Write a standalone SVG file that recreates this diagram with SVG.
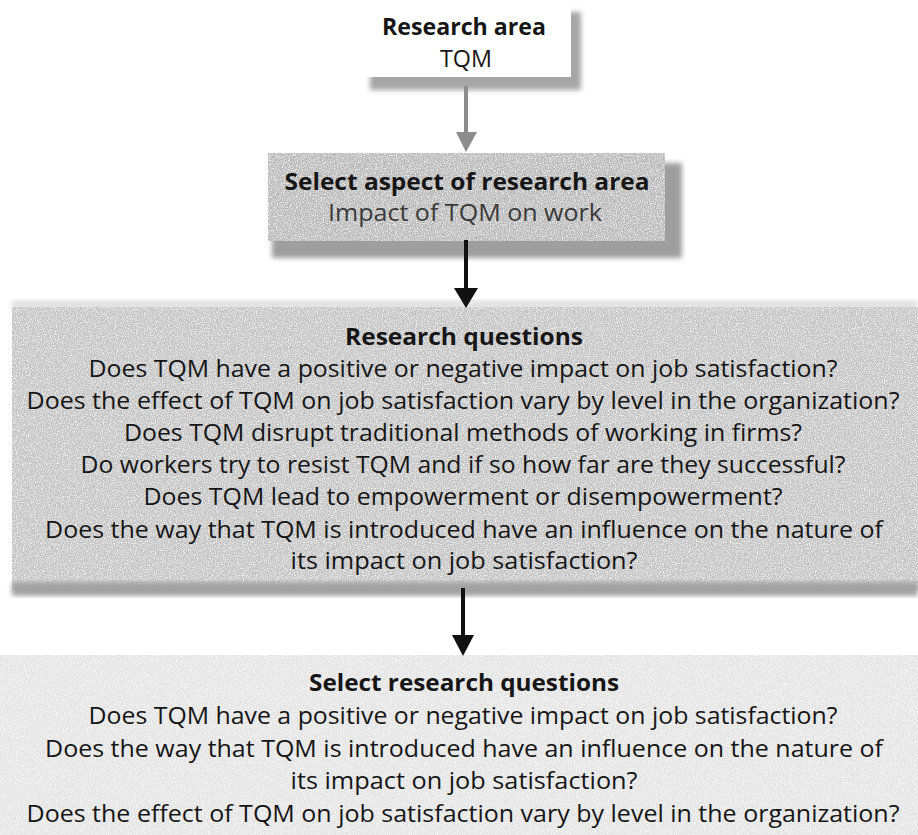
<svg xmlns="http://www.w3.org/2000/svg" width="918" height="835" viewBox="0 0 918 835">
  <defs>
    <style>
      text { font-family: "Open Sans", "Noto Sans", "Liberation Sans", sans-serif; fill: #161616; text-anchor: middle; }
      .b { font-weight: bold; font-size: 23px; }
      .r { font-size: 23px; }
      .gr { fill: #3a3a3a; }
    </style>
    <filter id="soft" x="-10%" y="-10%" width="120%" height="120%">
      <feGaussianBlur stdDeviation="2.5"/>
    </filter>
    <filter id="grain" x="0" y="0" width="100%" height="100%">
      <feTurbulence type="fractalNoise" baseFrequency="0.85" numOctaves="2" seed="4" result="n"/>
      <feColorMatrix in="n" type="matrix" values="0 0 0 0 1  0 0 0 0 1  0 0 0 0 1  0 0 0 2.2 -0.95" result="w"/>
      <feComposite in="w" in2="SourceGraphic" operator="in" result="wi"/>
      <feMerge><feMergeNode in="SourceGraphic"/><feMergeNode in="wi"/></feMerge>
    </filter>
  </defs>
  <rect width="918" height="835" fill="#ffffff"/>

  <g id="node-research-area">
    <rect x="370" y="12" width="211" height="78" fill="#a6a6a6" filter="url(#soft)"/>
    <rect x="362" y="2" width="209" height="75" fill="#ffffff"/>
    <text class="b" x="464" y="35" textLength="164" lengthAdjust="spacingAndGlyphs">Research area</text>
    <text class="r" x="466" y="67" textLength="52" lengthAdjust="spacingAndGlyphs">TQM</text>
  </g>

  <g id="node-select-aspect">
    <rect x="272" y="163" width="410" height="95" fill="#9e9e9e" filter="url(#soft)"/>
    <rect x="268" y="153" width="397" height="88" fill="#b9b9b9" filter="url(#grain)"/>
    <text class="b" x="467" y="190" textLength="365" lengthAdjust="spacingAndGlyphs">Select aspect of research area</text>
    <text class="r gr" x="465" y="221" textLength="274" lengthAdjust="spacingAndGlyphs">Impact of TQM on work</text>
  </g>

  <g id="node-research-questions">
    <rect x="12" y="300" width="906" height="10" fill="#e2e2e2" filter="url(#soft)"/>
    <rect x="12" y="307" width="906" height="283" fill="#c4c4c4" filter="url(#grain)"/>
    <rect x="12" y="582" width="906" height="14" fill="#a2a2a2" filter="url(#soft)"/>
    <text class="b" x="464" y="345" textLength="238" lengthAdjust="spacingAndGlyphs">Research questions</text>
    <text class="r" x="463" y="377" textLength="749" lengthAdjust="spacingAndGlyphs">Does TQM have a positive or negative impact on job satisfaction?</text>
    <text class="r" x="463" y="409" textLength="873" lengthAdjust="spacingAndGlyphs">Does the effect of TQM on job satisfaction vary by level in the organization?</text>
    <text class="r" x="463" y="441" textLength="678" lengthAdjust="spacingAndGlyphs">Does TQM disrupt traditional methods of working in firms?</text>
    <text class="r" x="463" y="473" textLength="765" lengthAdjust="spacingAndGlyphs">Do workers try to resist TQM and if so how far are they successful?</text>
    <text class="r" x="463" y="505" textLength="639" lengthAdjust="spacingAndGlyphs">Does TQM lead to empowerment or disempowerment?</text>
    <text class="r" x="464" y="538" textLength="838" lengthAdjust="spacingAndGlyphs">Does the way that TQM is introduced have an influence on the nature of</text>
    <text class="r" x="464" y="569" textLength="347" lengthAdjust="spacingAndGlyphs">its impact on job satisfaction?</text>
  </g>

  <g id="node-select-questions">
    <rect x="0" y="655" width="918" height="180" fill="#e4e4e4" filter="url(#grain)"/>
    <text class="b" x="464" y="691" textLength="310" lengthAdjust="spacingAndGlyphs">Select research questions</text>
    <text class="r" x="463" y="724" textLength="749" lengthAdjust="spacingAndGlyphs">Does TQM have a positive or negative impact on job satisfaction?</text>
    <text class="r" x="464" y="757" textLength="838" lengthAdjust="spacingAndGlyphs">Does the way that TQM is introduced have an influence on the nature of</text>
    <text class="r" x="464" y="789" textLength="347" lengthAdjust="spacingAndGlyphs">its impact on job satisfaction?</text>
    <text class="r" x="463" y="822" textLength="873" lengthAdjust="spacingAndGlyphs">Does the effect of TQM on job satisfaction vary by level in the organization?</text>
  </g>

  <g id="connectors">
    <line x1="466" y1="86" x2="466" y2="134" stroke="#8c8c8c" stroke-width="4"/>
    <polygon points="456,132 477,132 466,152" fill="#8c8c8c"/>
    <line x1="466" y1="240" x2="466" y2="290" stroke="#111111" stroke-width="4"/>
    <polygon points="454,288 478,288 466,308" fill="#111111"/>
    <line x1="463" y1="588" x2="463" y2="637" stroke="#111111" stroke-width="4"/>
    <polygon points="452,635 474,635 463,656" fill="#111111"/>
  </g>
</svg>
